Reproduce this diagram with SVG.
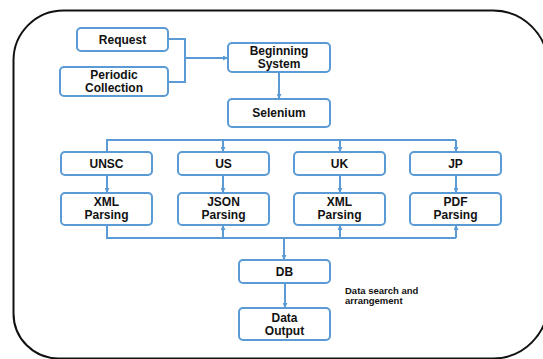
<svg xmlns="http://www.w3.org/2000/svg" width="543" height="359" viewBox="0 0 543 359">
<defs>
<marker id="ah" viewBox="0 0 10 10" refX="10" refY="5" markerWidth="5" markerHeight="5" orient="auto" markerUnits="userSpaceOnUse">
<path d="M0,0 L10,5 L0,10 z" fill="#5b9bd5"/>
</marker>
<style>
.box{fill:#fff;stroke:#5b9bd5;stroke-width:2}
.t{font-family:"Liberation Sans",Arial,sans-serif;font-weight:bold;font-size:12px;fill:#111;text-anchor:middle}
.c{fill:none;stroke:#5b9bd5;stroke-width:2}
.a{marker-end:url(#ah)}
.n{font-family:"Liberation Sans",Arial,sans-serif;font-weight:bold;font-size:9.5px;fill:#111}
</style>
</defs>
<rect width="543" height="359" fill="#fff"/>
<path d="M63.5,10.5 H493 A55,55 0 0 1 548,65.5 V303.5 A55,55 0 0 1 493,358.5 H58.5 A45,45 0 0 1 13.5,313.5 V60.5 A50,50 0 0 1 63.5,10.5 Z" fill="none" stroke="#111" stroke-width="2"/>
<g id="connectors">
<path class="c" d="M168,39 H185 V82 H168"/>
<path class="c a" d="M185,58 H228"/>
<path class="c a" d="M279,72 V99"/>
<path class="c" d="M107,152 V140 H456"/>
<path class="c a" d="M223,140 V152"/>
<path class="c a" d="M340,140 V152"/>
<path class="c a" d="M456,140 V152"/>
<path class="c a" d="M107,175 V193"/>
<path class="c a" d="M223,175 V193"/>
<path class="c a" d="M340,175 V193"/>
<path class="c a" d="M456,175 V193"/>
<path class="c" d="M107,225 V238 H456"/>
<path class="c a" d="M223,238 V225"/>
<path class="c a" d="M340,238 V225"/>
<path class="c a" d="M456,238 V225"/>
<path class="c a" d="M284,238 V260"/>
<path class="c a" d="M285,283 V308"/>
</g>
<g id="request"><rect class="box" x="77" y="28" width="91" height="23" rx="4"/><text class="t" x="122.5" y="44">Request</text></g>
<g id="periodic"><rect class="box" x="60" y="67" width="108" height="29" rx="4"/><text class="t" x="114" y="79">Periodic</text><text class="t" x="114" y="92">Collection</text></g>
<g id="beginning"><rect class="box" x="228" y="43" width="102" height="29" rx="4"/><text class="t" x="279" y="55">Beginning</text><text class="t" x="279" y="68">System</text></g>
<g id="selenium"><rect class="box" x="228" y="99" width="102" height="28" rx="4"/><text class="t" x="279" y="117">Selenium</text></g>
<g id="unsc"><rect class="box" x="61" y="152" width="91" height="23" rx="4"/><text class="t" x="106.5" y="168">UNSC</text></g>
<g id="us"><rect class="box" x="178" y="152" width="91" height="23" rx="4"/><text class="t" x="223.5" y="168">US</text></g>
<g id="uk"><rect class="box" x="294" y="152" width="91" height="23" rx="4"/><text class="t" x="339.5" y="168">UK</text></g>
<g id="jp"><rect class="box" x="410" y="152" width="91" height="23" rx="4"/><text class="t" x="455.5" y="168">JP</text></g>
<g id="xml1"><rect class="box" x="61" y="193" width="91" height="32" rx="4"/><text class="t" x="106.5" y="206">XML</text><text class="t" x="106.5" y="219">Parsing</text></g>
<g id="json"><rect class="box" x="178" y="193" width="91" height="32" rx="4"/><text class="t" x="223.5" y="206">JSON</text><text class="t" x="223.5" y="219">Parsing</text></g>
<g id="xml2"><rect class="box" x="294" y="193" width="91" height="32" rx="4"/><text class="t" x="339.5" y="206">XML</text><text class="t" x="339.5" y="219">Parsing</text></g>
<g id="pdf"><rect class="box" x="410" y="193" width="91" height="32" rx="4"/><text class="t" x="455.5" y="206">PDF</text><text class="t" x="455.5" y="219">Parsing</text></g>
<g id="db"><rect class="box" x="239" y="260" width="91" height="23" rx="4"/><text class="t" x="284.5" y="276">DB</text></g>
<g id="output"><rect class="box" x="239" y="308" width="91" height="32" rx="4"/><text class="t" x="284.5" y="322">Data</text><text class="t" x="284.5" y="335">Output</text></g>
<g id="note"><text class="n" x="345" y="294">Data search and</text><text class="n" x="345" y="304">arrangement</text></g>
</svg>
